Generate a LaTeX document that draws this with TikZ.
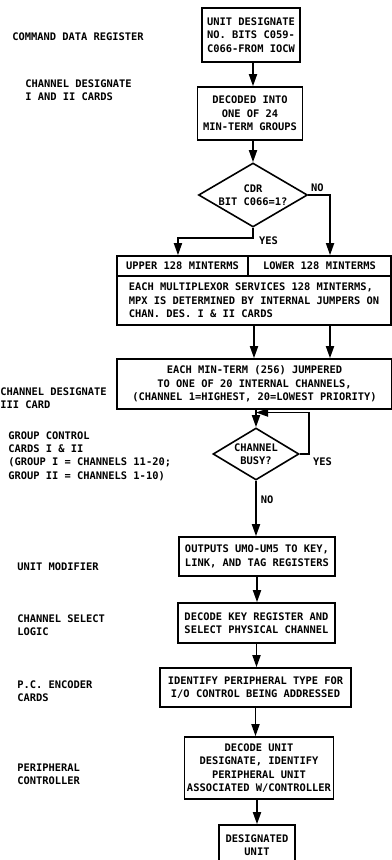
\documentclass[tikz,border=0pt]{standalone}
\usepackage{fontspec}
\setmainfont{DejaVu Sans Mono}
\usetikzlibrary{shapes.geometric,arrows.meta}
\newcommand{\flowfont}{\fontsize{7.8pt}{10pt}\selectfont\bfseries}
\begin{document}
\begin{tikzpicture}[x=0.75pt, y=0.75pt, font=\flowfont,
    box/.style={draw, line width=1.2pt, align=center, inner sep=0pt},
    decision/.style={draw, diamond, line width=1.2pt, align=center, inner sep=0pt},
    note/.style={anchor=west, align=left, inner sep=0pt},
    flow/.style={-{Triangle[length=9pt,width=6pt]}, line width=1.3pt}]
      \useasboundingbox (0,0) rectangle (392,860);
      \node[box, minimum width=73.5pt, minimum height=40.5pt] (cdr) at (251,825) {UNIT DESIGNATE\\NO. BITS C059-\\C066-FROM IOCW};
      \node[box, minimum width=78.75pt, minimum height=39.75pt] (decode) at (250,746.5) {DECODED INTO\\ONE OF 24\\MIN-TERM GROUPS};
      \node[decision, shape aspect=1.7, minimum width=81.75pt, minimum height=48pt] (cdrbit) at (253,665) {CDR\\BIT C066=1?};
      \node[box, minimum width=98.25pt, minimum height=15pt] (upper) at (182.5,594) {UPPER 128 MINTERMS};
      \node[box, minimum width=107.25pt, minimum height=15pt] (lower) at (319.5,594) {LOWER 128 MINTERMS};
      \node[box, align=left, minimum width=205.5pt, minimum height=36.75pt] (mpx) at (254,559.5) {EACH MULTIPLEXOR SERVICES 128 MINTERMS,\\MPX IS DETERMINED BY INTERNAL JUMPERS ON\\CHAN. DES. I \& II CARDS};
      \node[box, minimum width=206.25pt, minimum height=37.5pt] (minterm) at (254.5,476) {EACH MIN-TERM (256) JUMPERED\\TO ONE OF 20 INTERNAL CHANNELS,\\(CHANNEL 1=HIGHEST, 20=LOWEST PRIORITY)};
      \node[decision, shape aspect=1.65, minimum width=64.5pt, minimum height=39pt] (busy) at (256,406) {CHANNEL\\BUSY?};
      \node[box, minimum width=117pt, minimum height=29.25pt] (outputs) at (257,303.5) {OUTPUTS UMO-UM5 TO KEY,\\LINK, AND TAG REGISTERS};
      \node[box, minimum width=117.75pt, minimum height=30pt] (keyreg) at (256.5,237) {DECODE KEY REGISTER AND\\SELECT PHYSICAL CHANNEL};
      \node[box, minimum width=143.25pt, minimum height=29.25pt] (identify) at (255.5,172.5) {IDENTIFY PERIPHERAL TYPE FOR\\I/O CONTROL BEING ADDRESSED};
      \node[box, minimum width=111.75pt, minimum height=46.5pt] (pcdecode) at (259,92) {DECODE UNIT\\DESIGNATE, IDENTIFY\\PERIPHERAL UNIT\\ASSOCIATED W/CONTROLLER};
      \node[box, minimum width=57pt, minimum height=30pt] (unit) at (257,15) {DESIGNATED\\UNIT};
      \node[note] (lblcdr) at (12,823) {COMMAND DATA REGISTER};
      \node[note] (lbldes) at (25,770) {CHANNEL DESIGNATE\\I AND II CARDS};
      \node[note] (lbldesiii) at (0,462) {CHANNEL DESIGNATE\\III CARD};
      \node[note] (lblgroup) at (8,404) {GROUP CONTROL\\CARDS I \& II\\(GROUP I = CHANNELS 11-20;\\GROUP II = CHANNELS 1-10)};
      \node[note] (lblum) at (17,293) {UNIT MODIFIER};
      \node[note] (lblsel) at (17,235) {CHANNEL SELECT\\LOGIC};
      \node[note] (lblpc) at (17,169) {P.C. ENCODER\\CARDS};
      \node[note] (lblper) at (17,86) {PERIPHERAL\\CONTROLLER};
      \draw[flow] (cdrbit.north |- cdr.south) -- (cdrbit.north |- decode.north);
      \draw[flow] (cdrbit.north |- decode.south) -- (cdrbit.north);
      \draw[flow] (cdrbit.east) node[above right, inner sep=1.5pt] {NO} -| ([xshift=7.9pt]lower.north);
      \draw[flow] (cdrbit.south) -- ++(0,-10) node[right, inner sep=4pt, yshift=-2pt] {YES} -| ([xshift=-3.4pt]upper.north);
      \draw[flow] (mpx.south) -- (mpx.south |- minterm.north);
      \draw[flow] ([xshift=57pt]mpx.south) -- ([xshift=57pt]mpx.south |- minterm.north);
      \draw[flow] (busy.north |- minterm.south) -- (busy.north);
      \draw[flow] (busy.east) -- ++(9,0) node[below right, inner sep=2.5pt] {YES} |- ([yshift=11pt]busy.north);
      \draw[flow] (busy.south) -- node[pos=0.35, right, inner sep=3pt] {NO} (busy.south |- outputs.north);
      \draw[flow] (outputs.south) -- (outputs.south |- keyreg.north);
      \draw[flow] (keyreg.south) -- (keyreg.south |- identify.north);
      \draw[flow] (identify.south) -- (identify.south |- pcdecode.north);
      \draw[flow] (unit.north |- pcdecode.south) -- (unit.north);
    \end{tikzpicture}
\end{document}
